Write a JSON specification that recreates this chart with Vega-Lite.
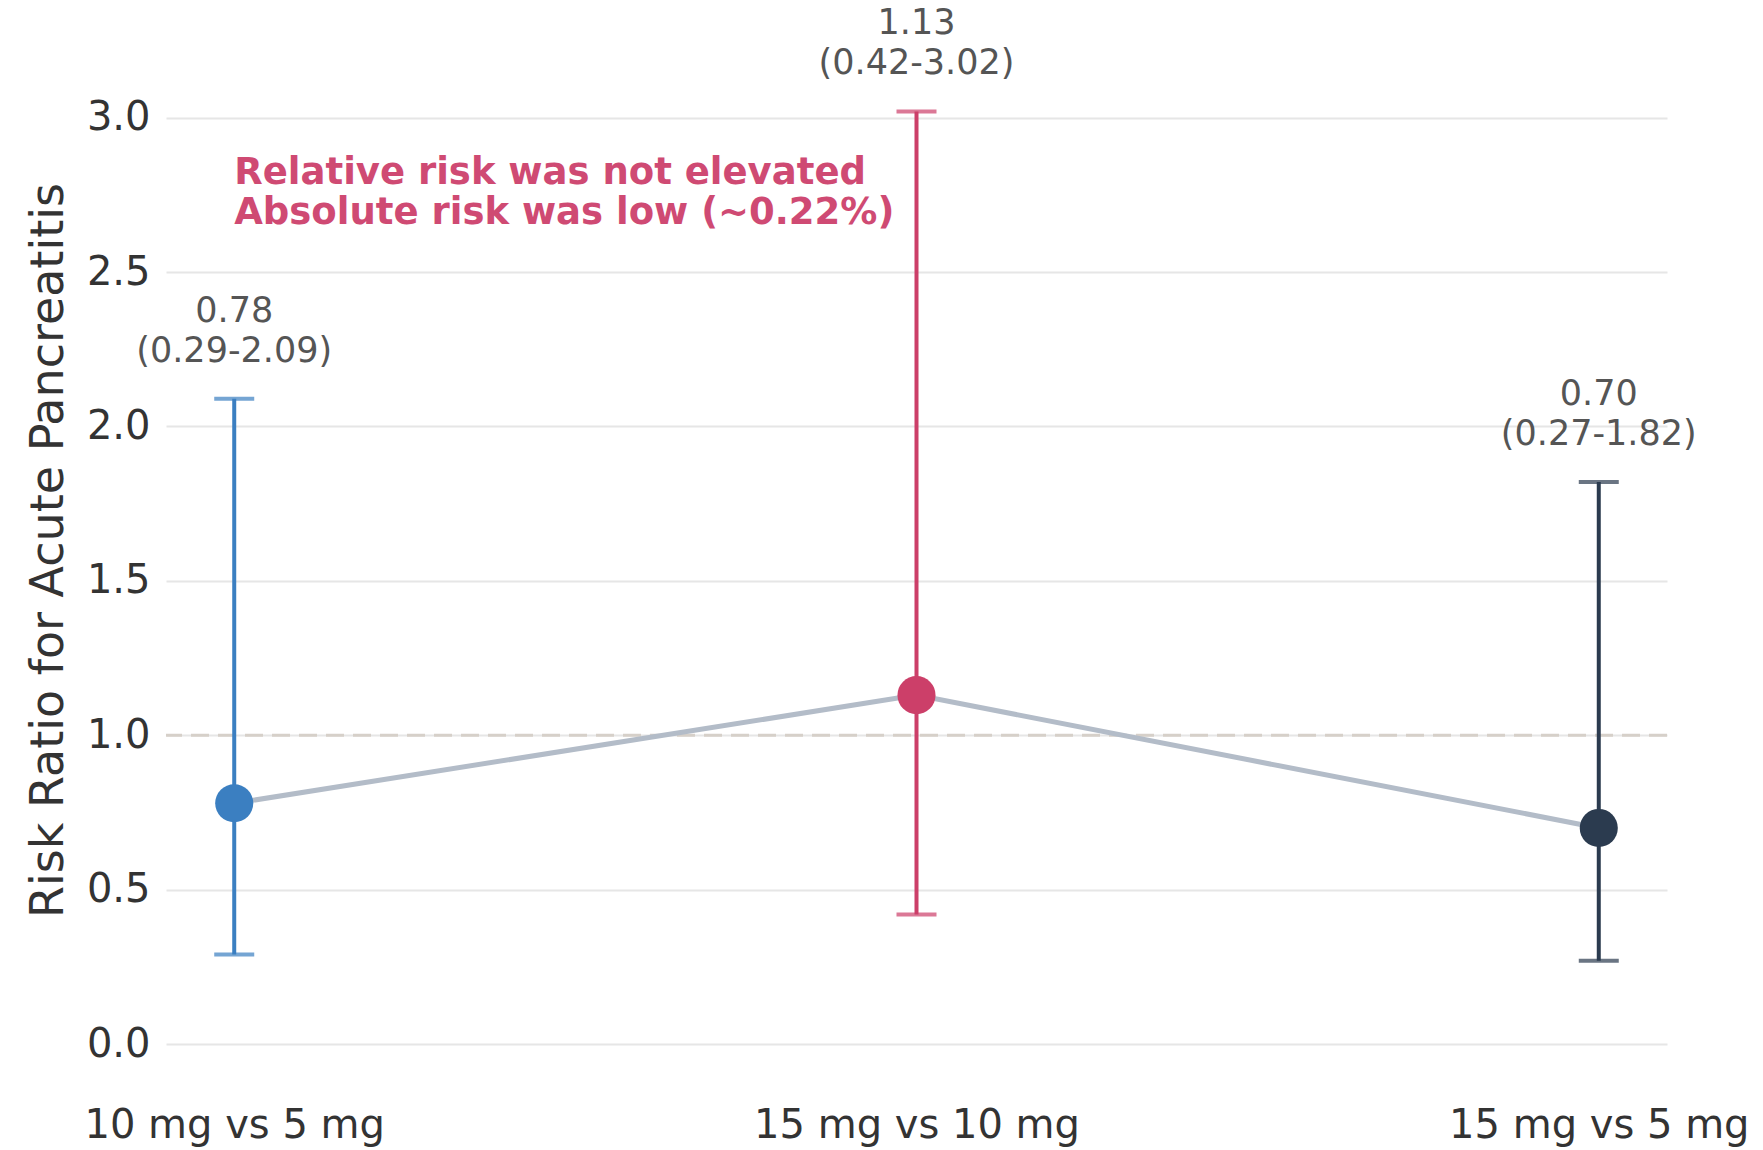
{
  "$schema": "https://vega.github.io/schema/vega-lite/v6.json",
  "width": 1501,
  "height": 1050,
  "autosize": {"type": "none"},
  "padding": {"left": 166, "top": 25, "right": 96, "bottom": 75},
  "background": "white",
  "config": {
    "view": {"stroke": null},
    "font": "DejaVu Sans",
    "axis": {"labelFont": "DejaVu Sans", "titleFont": "DejaVu Sans"}
  },
  "datasets": {
    "rr": [
      {"comparison": "10 mg vs 5 mg", "rr": 0.78, "lo": 0.29, "hi": 2.09, "label": "0.78\n(0.29-2.09)"},
      {"comparison": "15 mg vs 10 mg", "rr": 1.13, "lo": 0.42, "hi": 3.02, "label": "1.13\n(0.42-3.02)"},
      {"comparison": "15 mg vs 5 mg", "rr": 0.70, "lo": 0.27, "hi": 1.82, "label": "0.70\n(0.27-1.82)"}
    ],
    "ref": [{"ref": 1.0}],
    "note": [{"comparison": "10 mg vs 5 mg", "y": 2.88, "note": "Relative risk was not elevated\nAbsolute risk was low (~0.22%)"}]
  },
  "encoding": {
    "x": {
      "field": "comparison", "type": "nominal", "sort": null,
      "scale": {"type": "point", "padding": 0.1,
        "domain": ["10 mg vs 5 mg", "15 mg vs 10 mg", "15 mg vs 5 mg"]},
      "axis": {"title": null, "labelAngle": 0, "domain": false, "ticks": false, "grid": false,
        "labelFontSize": 40, "labelColor": "#333333", "labelPadding": 30, "labelLimit": 0}
    }
  },
  "layer": [
    {
      "data": {"name": "ref"},
      "mark": {"type": "rule", "strokeDash": [18, 9], "strokeWidth": 3, "color": "#d6d0c9"},
      "encoding": {
        "x": null,
        "y": {"field": "ref", "type": "quantitative",
          "scale": {"domain": [-0.1, 3.3], "nice": false, "zero": false},
          "axis": {"title": "Risk Ratio for Acute Pancreatitis", "values": [0, 0.5, 1, 1.5, 2, 2.5, 3],
            "format": ".1f", "grid": true, "gridColor": "#e6e6e6", "gridWidth": 2,
            "domain": false, "ticks": false, "labelFontSize": 40, "labelColor": "#333333",
            "labelPadding": 16, "titleFontSize": 46, "titleFontWeight": "normal",
            "titleColor": "#333333", "titlePadding": 14}}
      }
    },
    {
      "data": {"name": "rr"},
      "mark": {"type": "line", "color": "#b3bcc8", "strokeWidth": 5},
      "encoding": {"y": {"field": "rr", "type": "quantitative"}}
    },
    {
      "data": {"name": "rr"},
      "mark": {"type": "rule", "strokeWidth": 4},
      "encoding": {
        "y": {"field": "lo", "type": "quantitative"},
        "y2": {"field": "hi"},
        "color": {"field": "comparison", "type": "nominal", "legend": null,
          "scale": {"domain": ["10 mg vs 5 mg", "15 mg vs 10 mg", "15 mg vs 5 mg"], "range": ["#3b7fc1", "#cc3f69", "#2b3b4f"]}}
      }
    },
    {
      "data": {"name": "rr"},
      "mark": {"type": "tick", "size": 40, "thickness": 4, "orient": "horizontal"},
      "encoding": {
        "y": {"field": "lo", "type": "quantitative"},
        "color": {"field": "comparison", "type": "nominal", "legend": null}
      }
    },
    {
      "data": {"name": "rr"},
      "mark": {"type": "tick", "size": 40, "thickness": 4, "orient": "horizontal"},
      "encoding": {
        "y": {"field": "hi", "type": "quantitative"},
        "color": {"field": "comparison", "type": "nominal", "legend": null}
      }
    },
    {
      "data": {"name": "rr"},
      "mark": {"type": "circle", "size": 1450, "opacity": 1},
      "encoding": {
        "y": {"field": "rr", "type": "quantitative"},
        "color": {"field": "comparison", "type": "nominal", "legend": null}
      }
    },
    {
      "data": {"name": "rr"},
      "mark": {"type": "text", "lineBreak": "\n", "baseline": "bottom", "dy": -70, "fontSize": 35, "color": "#555555", "lineHeight": 40},
      "encoding": {
        "y": {"field": "hi", "type": "quantitative"},
        "text": {"field": "label"}
      }
    },
    {
      "data": {"name": "note"},
      "mark": {"type": "text", "lineBreak": "\n", "align": "left", "baseline": "top", "fontSize": 37, "fontWeight": "bold", "color": "#cf4a73", "lineHeight": 40},
      "encoding": {
        "y": {"field": "y", "type": "quantitative"},
        "text": {"field": "note"}
      }
    }
  ]
}
